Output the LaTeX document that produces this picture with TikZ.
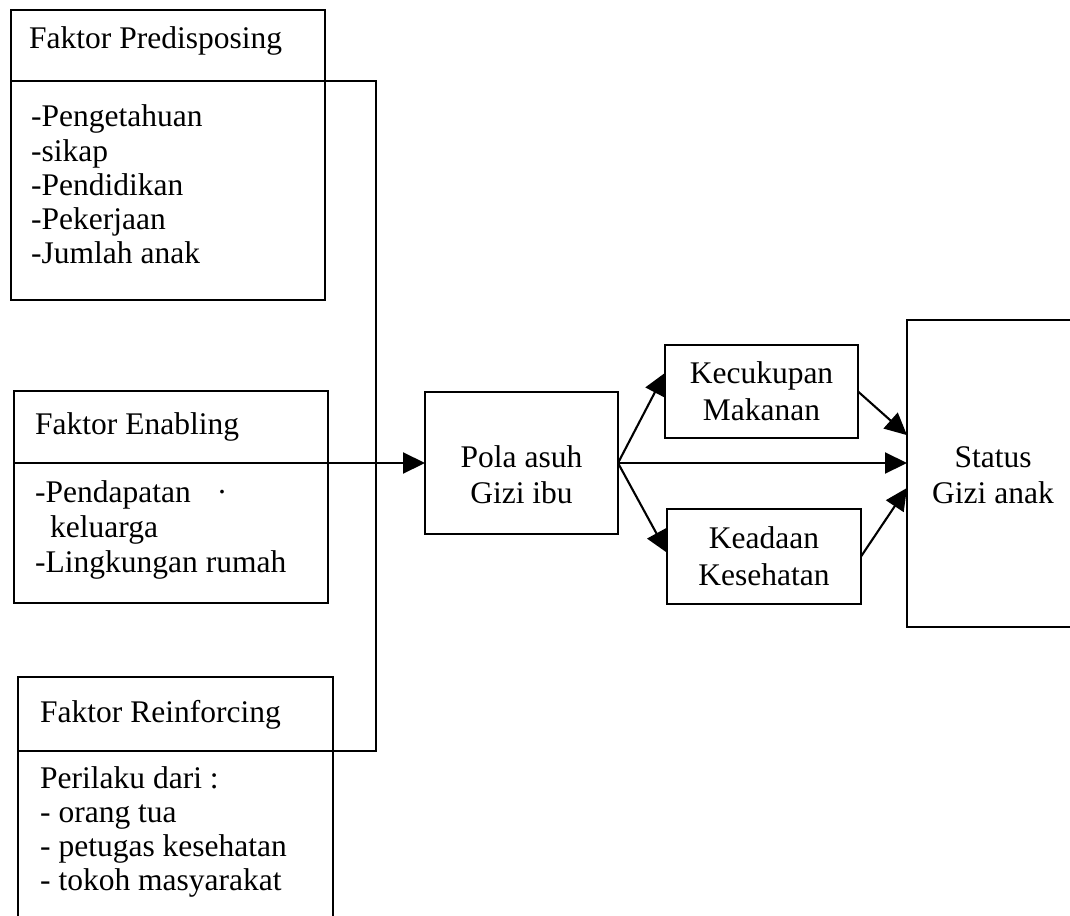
\documentclass[tikz,border=0pt]{standalone}
\usepackage{fontspec}
\setmainfont{Liberation Serif}
\usetikzlibrary{arrows.meta,calc}
\newcommand\diagfont{\fontsize{31.5}{34.5}\selectfont}
\begin{document}
\begin{tikzpicture}[x=1pt,y=-1pt,
  frame/.style={draw, line width=2.1pt, inner sep=0pt, outer sep=0pt, anchor=north west},
  wire/.style={line width=2.1pt},
  arrow/.style={wire, -{Triangle[length=22pt,width=21pt]}},
  lbl/.style={inner sep=0pt, font=\diagfont},
]
\useasboundingbox (0,0) rectangle (1070,915);
\clip (0,0) rectangle (1070,915);

% factor boxes
\node[frame, minimum width=314pt, minimum height=290pt] (pre) at (11,10) {};
\node[frame, minimum width=314pt, minimum height=212pt] (ena) at (14,391) {};
\node[frame, minimum width=315pt, minimum height=260pt] (rei) at (18,677) {};

% outcome boxes
\node[frame, minimum width=193pt, minimum height=142pt] (pola) at (425,392) {};
\node[frame, minimum width=193pt, minimum height=93pt]  (kec)  at (665,345) {};
\node[frame, minimum width=194pt, minimum height=95pt]  (kea)  at (667,509) {};
\node[frame, minimum width=175pt, minimum height=307pt] (stat) at (907,320) {};

% header dividers
\coordinate (preL) at (pre.west |- 0,81);
\coordinate (preD) at (pre.east |- 0,81);
\coordinate (enaL) at (ena.west |- 0,463);
\coordinate (enaD) at (ena.east |- 0,463);
\coordinate (reiL) at (rei.west |- 0,751);
\coordinate (reiD) at (rei.east |- 0,751);
\draw[wire] (preL) -- (preD);
\draw[wire] (enaL) -- (enaD);
\draw[wire] (reiL) -- (reiD);

% collecting line on the right of the factor boxes
\coordinate (busT) at (376,81);
\coordinate (busB) at (376,751);
\draw[wire] (preD) -- (busT) -- (busB) -- (reiD);
\draw[arrow] (enaD) -- (pola.west);

% arrows between outcome boxes
\draw[arrow] (pola.east) -- ($(kec.north west)!0.30!(kec.south west)$);
\draw[arrow] (pola.east) -- ($(kea.north west)!0.46!(kea.south west)$);
\draw[arrow] (pola.east) -- (pola.east -| stat.west);
\draw[arrow] (kec.east) -- ($(stat.north west)!0.375!(stat.south west)$);
\draw[arrow] (kea.east) -- ($(stat.north west)!0.547!(stat.south west)$);

% Predisposing texts
\node[lbl, anchor=base west] (preH) at (29,49) {Faktor Predisposing};
\node[lbl, anchor=base west] (pre1) at (31,127) {-Pengetahuan};
\node[lbl, anchor=base west] (pre2) at (31,161) {-sikap};
\node[lbl, anchor=base west] (pre3) at (31,195) {-Pendidikan};
\node[lbl, anchor=base west] (pre4) at (31,229) {-Pekerjaan};
\node[lbl, anchor=base west] (pre5) at (31,263) {-Jumlah anak};

% Enabling texts
\node[lbl, anchor=base west] (enaH) at (35,434) {Faktor Enabling};
\node[lbl, anchor=base west] (ena1) at (35,502) {-Pendapatan \hspace{18pt}·};
\node[lbl, anchor=base west] (ena2) at (50,537) {keluarga};
\node[lbl, anchor=base west] (ena3) at (35,572) {-Lingkungan rumah};

% Reinforcing texts
\node[lbl, anchor=base west] (reiH) at (40,722) {Faktor Reinforcing};
\node[lbl, anchor=base west] (rei1) at (40,788) {Perilaku dari :};
\node[lbl, anchor=base west] (rei2) at (40,822) {- orang tua};
\node[lbl, anchor=base west] (rei3) at (40,856) {- petugas kesehatan};
\node[lbl, anchor=base west] (rei4) at (40,890) {- tokoh masyarakat};

% outcome texts
\node[lbl, anchor=base] (pola1) at (521.5,467) {Pola asuh};
\node[lbl, anchor=base] (pola2) at (521.5,503) {Gizi ibu};
\node[lbl, anchor=base] (kec1) at (761.5,383) {Kecukupan};
\node[lbl, anchor=base] (kec2) at (761.5,420) {Makanan};
\node[lbl, anchor=base] (kea1) at (764,548) {Keadaan};
\node[lbl, anchor=base] (kea2) at (764,585) {Kesehatan};
\node[lbl, anchor=base] (stat1) at (993,467) {Status};
\node[lbl, anchor=base] (stat2) at (993,503) {Gizi anak};
\end{tikzpicture}
\end{document}
